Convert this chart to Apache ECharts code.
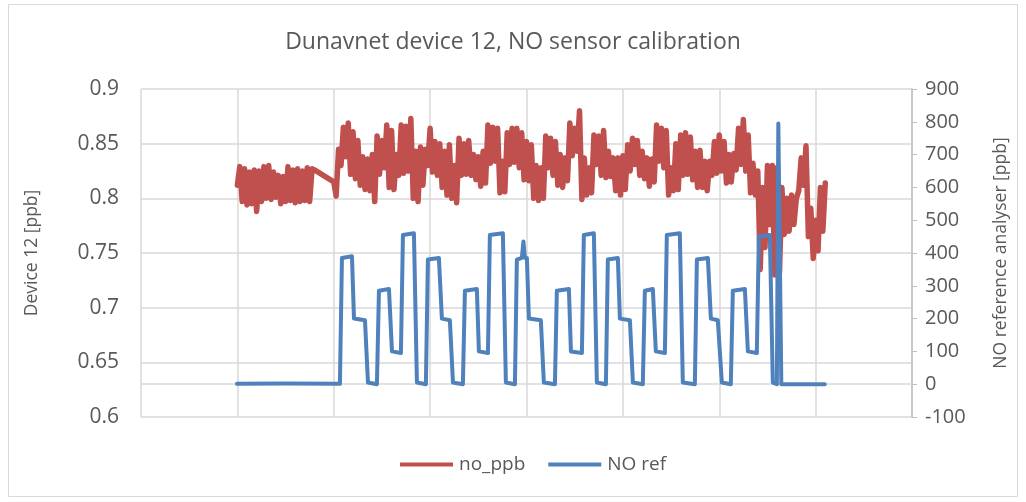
<!DOCTYPE html>
<html>
<head>
<meta charset="utf-8">
<title>Dunavnet device 12, NO sensor calibration</title>
<script src="https://cdn.jsdelivr.net/npm/echarts@6/dist/echarts.min.js"></script>
<style>
  html, body { margin: 0; padding: 0; background: #fff; }
  #chart { width: 1026px; height: 502px; }
</style>
</head>
<body>
<div id="chart"></div>
<script>
// x is measured in days from the start of the axis (8 gridline intervals)
const redStep = 0.025;

// no_ppb, first run (before the gap)
const redStartA = 1.0;
const redA = [
  0.812, 0.829, 0.797, 0.827, 0.794, 0.824, 0.795, 0.826, 0.788, 0.825,
  0.797, 0.829, 0.800, 0.830, 0.799, 0.824, 0.801, 0.821, 0.795, 0.820,
  0.797, 0.829, 0.798, 0.826, 0.796, 0.827, 0.797, 0.825, 0.798, 0.828,
  0.797, 0.827, 0.826
];

// no_ppb, second run
const redStartB = 2.0;
const redB = [
  0.815, 0.802, 0.845, 0.830, 0.865, 0.838, 0.869, 0.822, 0.861, 0.818,
  0.853, 0.812, 0.838, 0.808, 0.836, 0.807, 0.840, 0.797, 0.857, 0.822,
  0.853, 0.828, 0.867, 0.810, 0.862, 0.808, 0.840, 0.821, 0.867, 0.823,
  0.866, 0.825, 0.873, 0.800, 0.843, 0.797, 0.847, 0.812, 0.845, 0.830,
  0.864, 0.824, 0.852, 0.821, 0.850, 0.810, 0.843, 0.803, 0.849, 0.800,
  0.830, 0.796, 0.855, 0.821, 0.850, 0.822, 0.853, 0.821, 0.840, 0.817,
  0.838, 0.811, 0.843, 0.814, 0.867, 0.832, 0.865, 0.834, 0.864, 0.805,
  0.834, 0.806, 0.860, 0.831, 0.864, 0.833, 0.864, 0.828, 0.860, 0.817,
  0.852, 0.816, 0.849, 0.800, 0.830, 0.798, 0.828, 0.800, 0.857, 0.828,
  0.855, 0.821, 0.852, 0.812, 0.840, 0.810, 0.837, 0.816, 0.869, 0.839,
  0.864, 0.843, 0.880, 0.799, 0.837, 0.803, 0.828, 0.805, 0.858, 0.831,
  0.857, 0.821, 0.862, 0.819, 0.843, 0.820, 0.837, 0.807, 0.837, 0.803,
  0.839, 0.808, 0.849, 0.825, 0.855, 0.831, 0.853, 0.821, 0.843, 0.818,
  0.837, 0.811, 0.836, 0.815, 0.867, 0.834, 0.864, 0.828, 0.862, 0.803,
  0.828, 0.807, 0.850, 0.808, 0.858, 0.821, 0.860, 0.822, 0.856, 0.817,
  0.843, 0.810, 0.844, 0.810, 0.834, 0.807, 0.834, 0.821, 0.852, 0.823,
  0.858, 0.825, 0.852, 0.814, 0.840, 0.815, 0.841, 0.826, 0.864, 0.831,
  0.872, 0.825, 0.858, 0.805, 0.832, 0.803, 0.825, 0.735, 0.810, 0.755,
  0.830, 0.776, 0.830, 0.730, 0.828, 0.732, 0.810, 0.767, 0.800, 0.770,
  0.803, 0.776, 0.800, 0.807, 0.837, 0.812, 0.848, 0.765, 0.791, 0.745,
  0.780, 0.752, 0.810, 0.770, 0.814
];

// NO ref, corner points of the calibration steps
const refTimes = [
  0.996, 1.50, 2.064, 2.085, 2.189, 2.210, 2.324, 2.355, 2.448,
  2.469, 2.573, 2.604, 2.697, 2.718, 2.832, 2.863, 2.956,
  2.977, 3.091, 3.122, 3.205, 3.237, 3.340,
  3.361, 3.485, 3.506, 3.600, 3.620, 3.755, 3.786, 3.880,
  3.900, 3.952, 3.968, 3.983, 4.004, 4.025, 4.149, 4.180, 4.295,
  4.315, 4.440, 4.461, 4.575, 4.595, 4.699, 4.730, 4.824,
  4.844, 4.948, 4.969, 5.073, 5.104, 5.207,
  5.228, 5.311, 5.342, 5.436, 5.456, 5.591, 5.622, 5.747,
  5.768, 5.882, 5.913, 5.985, 6.027, 6.120,
  6.141, 6.266, 6.297, 6.390, 6.411, 6.525, 6.556, 6.598,
  6.613, 6.629, 6.644, 7.095
];
const refValues = [
  1, 2, 1, 385, 390, 200, 195, 5, 0,
  285, 290, 100, 95, 455, 460, 5, 0,
  380, 385, 200, 195, 5, 0,
  285, 290, 100, 95, 455, 460, 5, 0,
  380, 385, 435, 385, 385, 200, 195, 5, 0,
  285, 290, 100, 95, 455, 460, 5, 0,
  380, 385, 200, 195, 5, 0,
  285, 290, 100, 95, 455, 460, 5, 0,
  380, 385, 200, 195, 5, 0,
  285, 290, 100, 95, 450, 455, 5, 0,
  795, 795, 0, 0
];

const RED = '#C0504D';
const BLUE = '#4F81BD';
const TEXT = '#595959';
const GRID = '#D9D9D9';
const FONT = '"Open Sans", "Liberation Sans", sans-serif';

// build [x, y] pairs for the library
const redData = [];
redA.forEach((v, i) => redData.push([redStartA + i * redStep, v]));
redB.forEach((v, i) => redData.push([redStartB + i * redStep, v]));
const refData = refTimes.map((t, i) => [t, refValues[i]]);

const chart = echarts.init(document.getElementById('chart'), null, { renderer: 'canvas' });

chart.setOption({
  animation: false,
  backgroundColor: '#fff',
  textStyle: { fontFamily: FONT, color: TEXT },
  title: {
    text: 'Dunavnet device 12, NO sensor calibration',
    left: 'center',
    top: 26,
    textStyle: { fontFamily: FONT, fontSize: 23, fontWeight: 'normal', color: TEXT }
  },
  legend: {
    bottom: 23,
    left: 395,
    icon: 'rect',
    itemWidth: 53,
    itemHeight: 4,
    itemGap: 23,
    textStyle: { fontFamily: FONT, fontSize: 19, color: TEXT, padding: [0, 0, 0, 1] },
    data: ['no_ppb', 'NO ref']
  },
  grid: { left: 141, right: 114, top: 89, bottom: 85 },
  xAxis: {
    type: 'value',
    min: 0,
    max: 8,
    interval: 1,
    axisLine: { show: true, lineStyle: { color: GRID, width: 1.5 } },
    axisTick: { show: false },
    axisLabel: { show: false },
    splitLine: { show: true, lineStyle: { color: GRID, width: 1.5 } }
  },
  yAxis: [
    {
      type: 'value',
      name: 'Device 12 [ppb]',
      nameLocation: 'middle',
      nameGap: 100,
      nameTextStyle: { fontFamily: FONT, fontSize: 17.5, color: TEXT },
      min: 0.6,
      max: 0.9,
      interval: 0.05,
      axisLine: { show: false },
      axisTick: { show: false },
      axisLabel: { margin: 22, fontFamily: FONT, fontSize: 21, color: TEXT },
      splitLine: { show: true, lineStyle: { color: GRID, width: 1.5 } }
    },
    {
      type: 'value',
      name: 'NO reference analyser [ppb]',
      nameLocation: 'middle',
      nameGap: 80,
      nameRotate: 90,
      nameTextStyle: { fontFamily: FONT, fontSize: 17.5, color: TEXT },
      min: -100,
      max: 900,
      interval: 100,
      axisLine: { show: true, lineStyle: { color: '#BFBFBF', width: 1.5 } },
      axisTick: { show: true, length: 5, lineStyle: { color: '#BFBFBF' } },
      axisLabel: { margin: 13, fontFamily: FONT, fontSize: 20, color: TEXT },
      splitLine: { show: false }
    }
  ],
  series: [
    {
      name: 'no_ppb',
      type: 'line',
      yAxisIndex: 0,
      data: redData,
      showSymbol: false,
      symbol: 'none',
      color: RED,
      // the sensor trace is very noisy; a heavy stroke fills the band like the original
      lineStyle: { color: RED, width: 5.5, cap: 'round', join: 'round' }
    },
    {
      name: 'NO ref',
      type: 'line',
      yAxisIndex: 1,
      data: refData,
      showSymbol: false,
      symbol: 'none',
      color: BLUE,
      lineStyle: { color: BLUE, width: 4, cap: 'round', join: 'round' }
    }
  ],
  // light frame round the chart area, as in the spreadsheet export
  graphic: [
    {
      type: 'rect',
      shape: { x: 8.5, y: 4.5, width: 1009, height: 492 },
      style: { fill: 'none', stroke: GRID, lineWidth: 1 },
      silent: true
    }
  ]
});
</script>
</body>
</html>
